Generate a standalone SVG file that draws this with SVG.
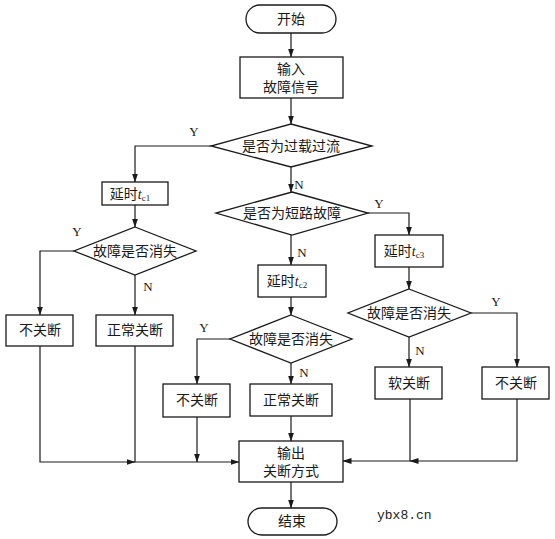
<svg xmlns="http://www.w3.org/2000/svg" width="555" height="539" viewBox="0 0 555 539">
<style>
.s{fill:#fff;stroke:#1a1a1a;stroke-width:1.3}
.t{font-family:"Liberation Serif","Noto Sans CJK SC",serif;font-size:14px;fill:#1a1a1a;text-anchor:middle}
.l{font-family:"Liberation Serif",serif;font-size:13px;fill:#1a1a1a;text-anchor:middle}
.c{fill:none;stroke:#1a1a1a;stroke-width:1.2}
.w{font-family:"Liberation Mono","DejaVu Sans Mono",monospace;font-size:13px;fill:#222}
</style>
<defs>
<marker id="a" markerUnits="userSpaceOnUse" markerWidth="9" markerHeight="7" refX="8.5" refY="3.5" orient="auto">
<path d="M0,0.5 L9,3.5 L0,6.5 z" fill="#1a1a1a"/>
</marker>
</defs>
<rect width="555" height="539" fill="#fff"/>
<g id="connectors">
<path class="c" d="M291,33 V57" marker-end="url(#a)"/>
<path class="c" d="M291,98 V124" marker-end="url(#a)"/>
<path class="c" d="M211,146 H135 V182" marker-end="url(#a)"/>
<path class="c" d="M291,167 V192" marker-end="url(#a)"/>
<path class="c" d="M135,205 V227" marker-end="url(#a)"/>
<path class="c" d="M74,251 H40 V315" marker-end="url(#a)"/>
<path class="c" d="M135,275 V315" marker-end="url(#a)"/>
<path class="c" d="M368,213 H409 V235" marker-end="url(#a)"/>
<path class="c" d="M291,235 V265" marker-end="url(#a)"/>
<path class="c" d="M409,267 V289" marker-end="url(#a)"/>
<path class="c" d="M471,313 H517 V367" marker-end="url(#a)"/>
<path class="c" d="M409,337 V367" marker-end="url(#a)"/>
<path class="c" d="M291,297 V315" marker-end="url(#a)"/>
<path class="c" d="M230,339 H197 V384" marker-end="url(#a)"/>
<path class="c" d="M291,363 V384" marker-end="url(#a)"/>
<path class="c" d="M40,346 V462 H135" marker-end="url(#a)"/>
<path class="c" d="M135,346 V462 H239" marker-end="url(#a)"/>
<path class="c" d="M197,417 V462" marker-end="url(#a)"/>
<path class="c" d="M291,416 V441" marker-end="url(#a)"/>
<path class="c" d="M517,399 V461 H410" marker-end="url(#a)"/>
<path class="c" d="M410,399 V461 H343" marker-end="url(#a)"/>
<path class="c" d="M291,482 V508" marker-end="url(#a)"/>
<text class="l" x="194" y="136">Y</text>
<text class="l" x="299" y="189">N</text>
<text class="l" x="77" y="236">Y</text>
<text class="l" x="148" y="291">N</text>
<text class="l" x="379" y="208">Y</text>
<text class="l" x="302" y="257">N</text>
<text class="l" x="496" y="306">Y</text>
<text class="l" x="420" y="355">N</text>
<text class="l" x="204" y="332">Y</text>
<text class="l" x="304" y="377">N</text>
</g>
<g id="start"><rect class="s" x="246" y="5" width="90" height="28" rx="14"/><text class="t" x="291" y="24">开始</text></g>
<g id="input"><rect class="s" x="240" y="57" width="103" height="41"/><text class="t" x="291" y="74">输入</text><text class="t" x="291" y="92">故障信号</text></g>
<g id="d1"><path class="s" d="M291,124 L372,146 L291,167 L211,146 z"/><text class="t" x="291" y="151">是否为过载过流</text></g>
<g id="tc1"><rect class="s" x="102" y="182" width="66" height="23"/><text class="t" x="130" y="199">延时<tspan font-style="italic">t</tspan><tspan font-size="9" dy="2">c1</tspan></text></g>
<g id="dL"><path class="s" d="M135,227 L196,251 L135,275 L74,251 z"/><text class="t" x="135" y="256">故障是否消失</text></g>
<g id="noL"><rect class="s" x="6" y="315" width="67" height="31"/><text class="t" x="40" y="335">不关断</text></g>
<g id="normL"><rect class="s" x="96" y="315" width="77" height="31"/><text class="t" x="135" y="335">正常关断</text></g>
<g id="d2"><path class="s" d="M292,192 L368,213 L292,235 L216,213 z"/><text class="t" x="292" y="218">是否为短路故障</text></g>
<g id="tc2"><rect class="s" x="258" y="265" width="68" height="32"/><text class="t" x="287" y="286">延时<tspan font-style="italic">t</tspan><tspan font-size="9" dy="2">c2</tspan></text></g>
<g id="dM"><path class="s" d="M291,315 L352,339 L291,363 L230,339 z"/><text class="t" x="291" y="344">故障是否消失</text></g>
<g id="noM"><rect class="s" x="163" y="384" width="67" height="33"/><text class="t" x="197" y="405">不关断</text></g>
<g id="normM"><rect class="s" x="250" y="384" width="82" height="32"/><text class="t" x="291" y="405">正常关断</text></g>
<g id="tc3"><rect class="s" x="375" y="235" width="68" height="32"/><text class="t" x="404" y="256">延时<tspan font-style="italic">t</tspan><tspan font-size="9" dy="2">c3</tspan></text></g>
<g id="dR"><path class="s" d="M409,289 L471,313 L409,337 L348,313 z"/><text class="t" x="409" y="318">故障是否消失</text></g>
<g id="soft"><rect class="s" x="375" y="367" width="67" height="32"/><text class="t" x="409" y="388">软关断</text></g>
<g id="noR"><rect class="s" x="482" y="367" width="67" height="32"/><text class="t" x="516" y="388">不关断</text></g>
<g id="output"><rect class="s" x="239" y="441" width="104" height="41"/><text class="t" x="291" y="458">输出</text><text class="t" x="291" y="476">关断方式</text></g>
<g id="end"><rect class="s" x="248" y="508" width="89" height="27" rx="13.5"/><text class="t" x="292" y="526">结束</text></g>
<text class="w" x="377" y="519">ybx8.cn</text>
</svg>
